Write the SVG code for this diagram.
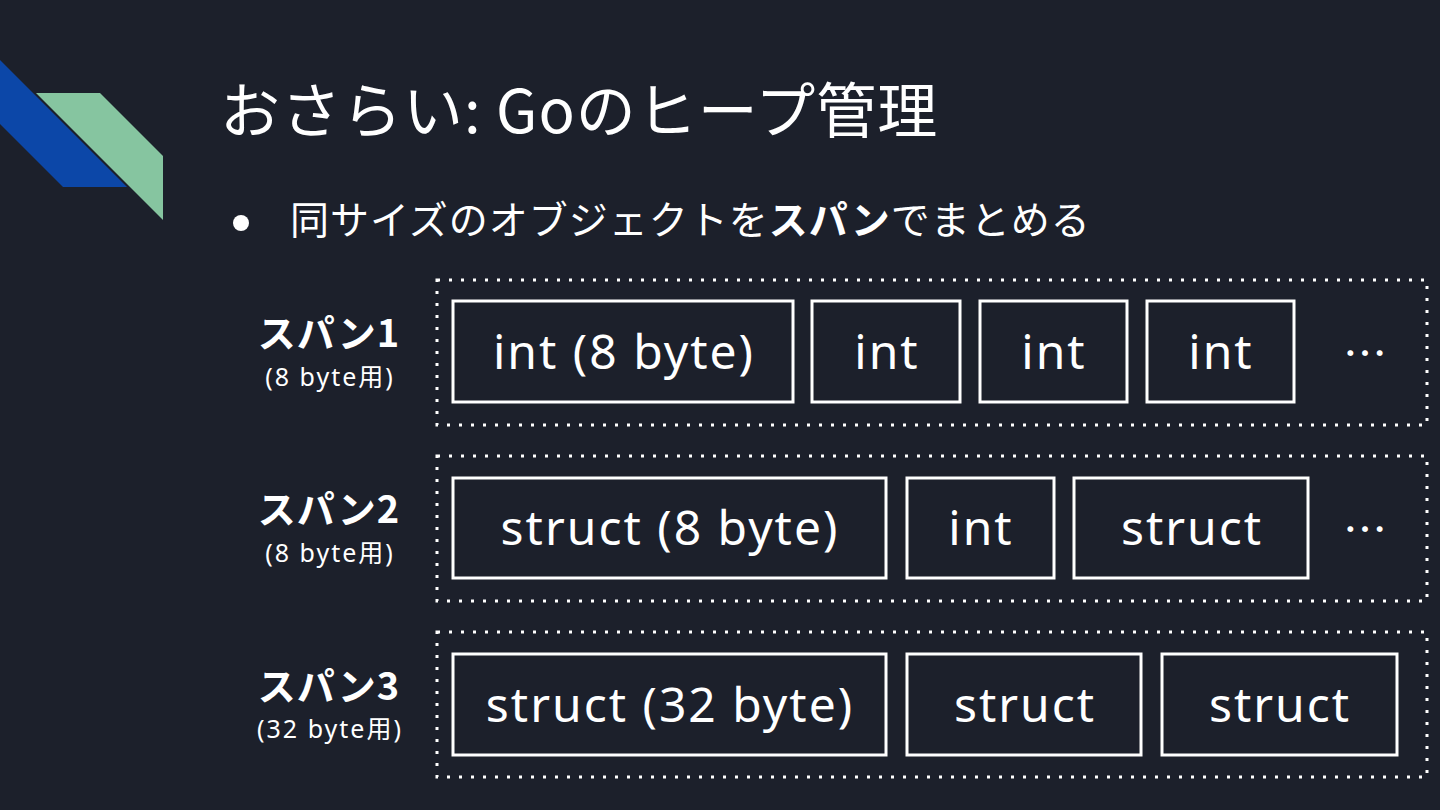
<svg xmlns="http://www.w3.org/2000/svg" width="1440" height="810" viewBox="0 0 1440 810">
<style>
.t{font-family:"Noto Sans CJK JP","Noto Sans",sans-serif;fill:#ffffff}
.box{fill:none;stroke:#ffffff;stroke-width:3}
.span{fill:none;stroke:#ffffff;stroke-width:3;stroke-dasharray:3 9}
.bt{font-family:"Noto Sans","Noto Sans CJK JP",sans-serif;fill:#ffffff;font-size:48px;letter-spacing:2px;text-anchor:middle}
.el{font-family:"Noto Sans","Noto Sans CJK JP",sans-serif;fill:#ffffff;font-size:44px;text-anchor:middle}
.lb{font-family:"Noto Sans CJK JP",sans-serif;fill:#ffffff;font-size:38px;letter-spacing:1px;font-weight:bold;text-anchor:middle}
.ls{font-family:"Noto Sans","Noto Sans CJK JP",sans-serif;fill:#ffffff;font-size:25px;letter-spacing:2px;text-anchor:middle}
</style>
<rect width="1440" height="810" fill="#1c202b"/>
<g id="logo">
<polygon points="0,60 127,187 63,187 0,124" fill="#0c47a8"/>
<polygon points="36,93 100,93 163,156 163,220" fill="#86c5a0"/>
</g>
<text class="t" x="220" y="133" font-size="60" letter-spacing="1">おさらい: Goのヒープ管理</text>
<circle cx="241" cy="223" r="8" fill="#ffffff"/>
<text class="t" x="290" y="234" font-size="39" letter-spacing="1">同サイズのオブジェクトを<tspan font-weight="bold">スパン</tspan>でまとめる</text>

<g id="span1">
<rect class="span" x="437" y="280" width="990" height="145"/>
<text class="lb" x="329" y="347">スパン1</text>
<text class="ls" x="330" y="386">(8 byte用)</text>
</g>
<g id="s1b1"><rect class="box" x="453" y="301" width="340" height="101"/><text class="bt" x="624" y="369">int (8 byte)</text></g>
<g id="s1b2"><rect class="box" x="812" y="301" width="148" height="101"/><text class="bt" x="887" y="369">int</text></g>
<g id="s1b3"><rect class="box" x="980" y="301" width="147" height="101"/><text class="bt" x="1054" y="369">int</text></g>
<g id="s1b4"><rect class="box" x="1147" y="301" width="147" height="101"/><text class="bt" x="1221" y="369">int</text></g>
<text class="el" x="1365" y="370">⋯</text>

<g id="span2">
<rect class="span" x="437" y="456" width="990" height="145"/>
<text class="lb" x="329" y="523">スパン2</text>
<text class="ls" x="330" y="562">(8 byte用)</text>
</g>
<g id="s2b1"><rect class="box" x="453" y="478" width="433" height="100"/><text class="bt" x="670" y="545">struct (8 byte)</text></g>
<g id="s2b2"><rect class="box" x="907" y="478" width="147" height="100"/><text class="bt" x="981" y="545">int</text></g>
<g id="s2b3"><rect class="box" x="1074" y="478" width="234" height="100"/><text class="bt" x="1192" y="545">struct</text></g>
<text class="el" x="1365" y="546">⋯</text>

<g id="span3">
<rect class="span" x="437" y="632" width="990" height="145"/>
<text class="lb" x="329" y="700">スパン3</text>
<text class="ls" x="330" y="738">(32 byte用)</text>
</g>
<g id="s3b1"><rect class="box" x="453" y="654" width="433" height="101"/><text class="bt" x="670" y="722">struct (32 byte)</text></g>
<g id="s3b2"><rect class="box" x="907" y="654" width="234" height="101"/><text class="bt" x="1025" y="722">struct</text></g>
<g id="s3b3"><rect class="box" x="1162" y="654" width="235" height="101"/><text class="bt" x="1280" y="722">struct</text></g>
<g id="connectors"/>
</svg>
